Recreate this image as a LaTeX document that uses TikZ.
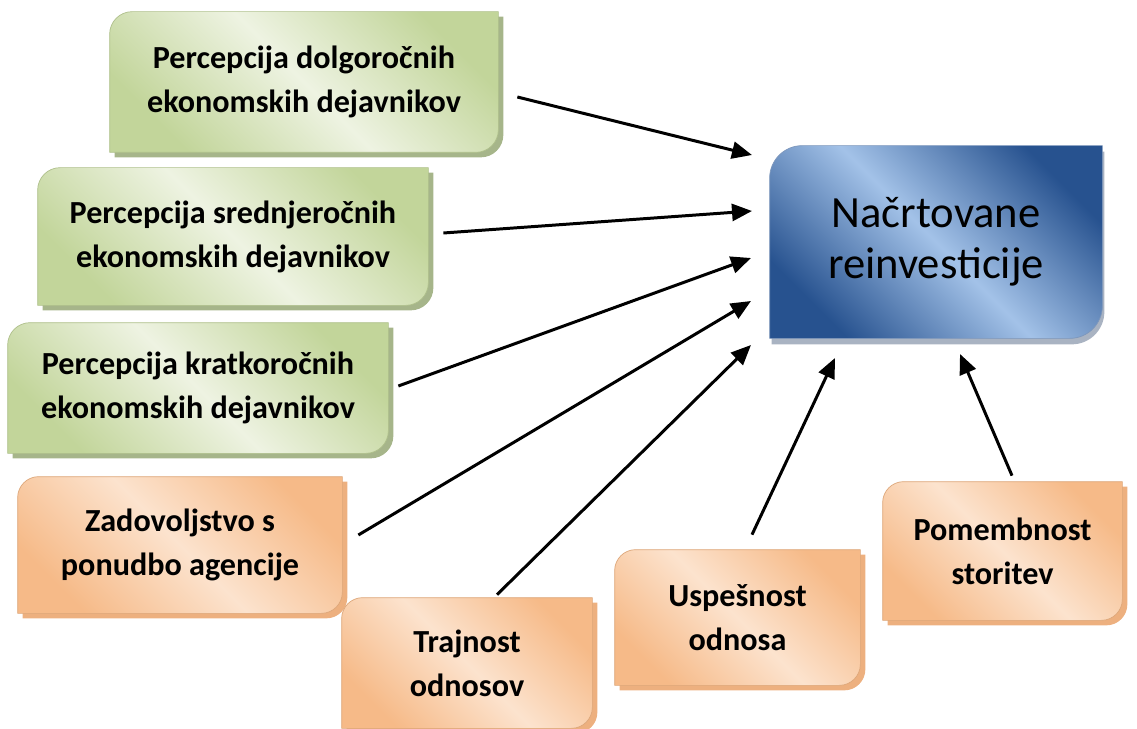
\documentclass[tikz,border=0pt]{standalone}
\usepackage{fontspec}
\setmainfont{Carlito}
\usepackage{xcolor}
\usepackage{tikz}
\usetikzlibrary{positioning,arrows.meta,calc,backgrounds}

\definecolor{grnDark}{HTML}{C2D59A}
\definecolor{grnLight}{HTML}{EEF3E2}
\definecolor{grnShade}{HTML}{A6B58A}
\definecolor{orgDark}{HTML}{F6BA88}
\definecolor{orgLight}{HTML}{FCE3CE}
\definecolor{orgShade}{HTML}{EDB07F}
\definecolor{bluDark}{HTML}{27528F}
\definecolor{bluLight}{HTML}{A3C2E8}
\definecolor{bluShade}{HTML}{A9B3C2}

% box outline: rounded top left and bottom right corners
\newcommand{\slab}[2]{%
  (#1.south west) -- ([yshift=-#2cm]#1.north west)
  arc[start angle=180,end angle=90,radius=#2cm] -- (#1.north east)
  -- ([yshift=#2cm]#1.south east)
  arc[start angle=0,end angle=-90,radius=#2cm] -- cycle}

\begin{document}
\begin{tikzpicture}[
    box/.style={align=center,inner sep=0pt,
      font=\bfseries\fontsize{18.3}{25}\selectfont},
    main/.style={align=center,inner sep=0pt,
      font=\fontsize{25.4}{28.8}\selectfont},
    grnfill/.style={left color=grnDark,right color=grnDark,
      middle color=grnLight,shading angle=-45,draw=grnDark!90!black,line width=0.4pt},
    orgfill/.style={left color=orgDark,right color=orgDark,
      middle color=orgLight,shading angle=-45,draw=orgDark!90!black,line width=0.4pt},
    blufill/.style={left color=bluDark,right color=bluDark,
      middle color=bluLight,shading angle=-45,draw=bluDark!60,line width=0.4pt},
    arr/.style={line width=1.7pt,-{Triangle[length=0.4cm,width=0.34cm]}}
]
\useasboundingbox (0,0) rectangle (22.74,-14.58);

\node[box,minimum width=7.76cm,minimum height=2.8cm] (dolg) at (6.08,-1.64)
  {Percepcija dolgoročnih\\ekonomskih dejavnikov};
\node[box,minimum width=7.8cm,minimum height=2.74cm] (sred) at (4.66,-4.73)
  {Percepcija srednjeročnih\\ekonomskih dejavnikov};
\node[box,minimum width=7.6cm,minimum height=2.6cm] (krat) at (3.96,-7.76)
  {Percepcija kratkoročnih\\ekonomskih dejavnikov};
\node[box,minimum width=6.48cm,minimum height=2.72cm] (zado) at (3.6,-10.9)
  {Zadovoljstvo s\\ponudbo agencije};
\node[box,minimum width=5.0cm,minimum height=2.6cm] (trajn) at (9.34,-13.26)
  {Trajnost\\odnosov};
\node[box,minimum width=4.9cm,minimum height=2.7cm] (uspe) at (14.75,-12.35)
  {Uspešnost\\odnosa};
\node[box,minimum width=4.78cm,minimum height=2.76cm] (pome) at (20.05,-11.02)
  {Pomembnost\\storitev};
\node[main,minimum width=6.64cm,minimum height=3.84cm] (nacrt) at (18.72,-4.84)
  {Načrtovane\\reinvesticije};

\begin{scope}[on background layer]
  \foreach \n/\r in {dolg/0.45,sred/0.45,krat/0.45}{
    \fill[grnShade,transform canvas={shift={(0.1,-0.1)}}] \slab{\n}{\r};
    \shade[grnfill] \slab{\n}{\r};
  }
  \foreach \n/\r in {zado/0.42,trajn/0.42,uspe/0.42,pome/0.42}{
    \fill[orgShade,transform canvas={shift={(0.1,-0.1)}}] \slab{\n}{\r};
    \shade[orgfill] \slab{\n}{\r};
  }
  \fill[bluShade,transform canvas={shift={(0.04,-0.12)}}] \slab{nacrt}{0.65};
  \shade[blufill] \slab{nacrt}{0.65};
\end{scope}

% arrow tips next to the target box
\coordinate (e1) at (15.04,-3.10);
\coordinate (e2) at (15.04,-4.22);
\coordinate (e3) at (15.02,-5.16);
\coordinate (e4) at (15.02,-6.02);
\coordinate (e5) at (15.02,-6.90);
\coordinate (e6) at (16.70,-7.16);
\coordinate (e7) at (19.20,-7.08);

\draw[arr] ([shift={(0.38,-0.30)}]dolg.east) -- (e1);
\draw[arr] ([shift={(0.30,0.07)}]sred.east) -- (e2);
\draw[arr] ([shift={(0.20,0.04)}]krat.east) -- (e3);
\draw[arr] ([shift={(0.32,0.20)}]zado.east) -- (e4);
\draw[arr] ([shift={(0.60,0.06)}]trajn.north) -- (e5);
\draw[arr] ([shift={(0.29,0.30)}]uspe.north) -- (e6);
\draw[arr] ([shift={(0.19,0.12)}]pome.north) -- (e7);

\end{tikzpicture}
\end{document}
